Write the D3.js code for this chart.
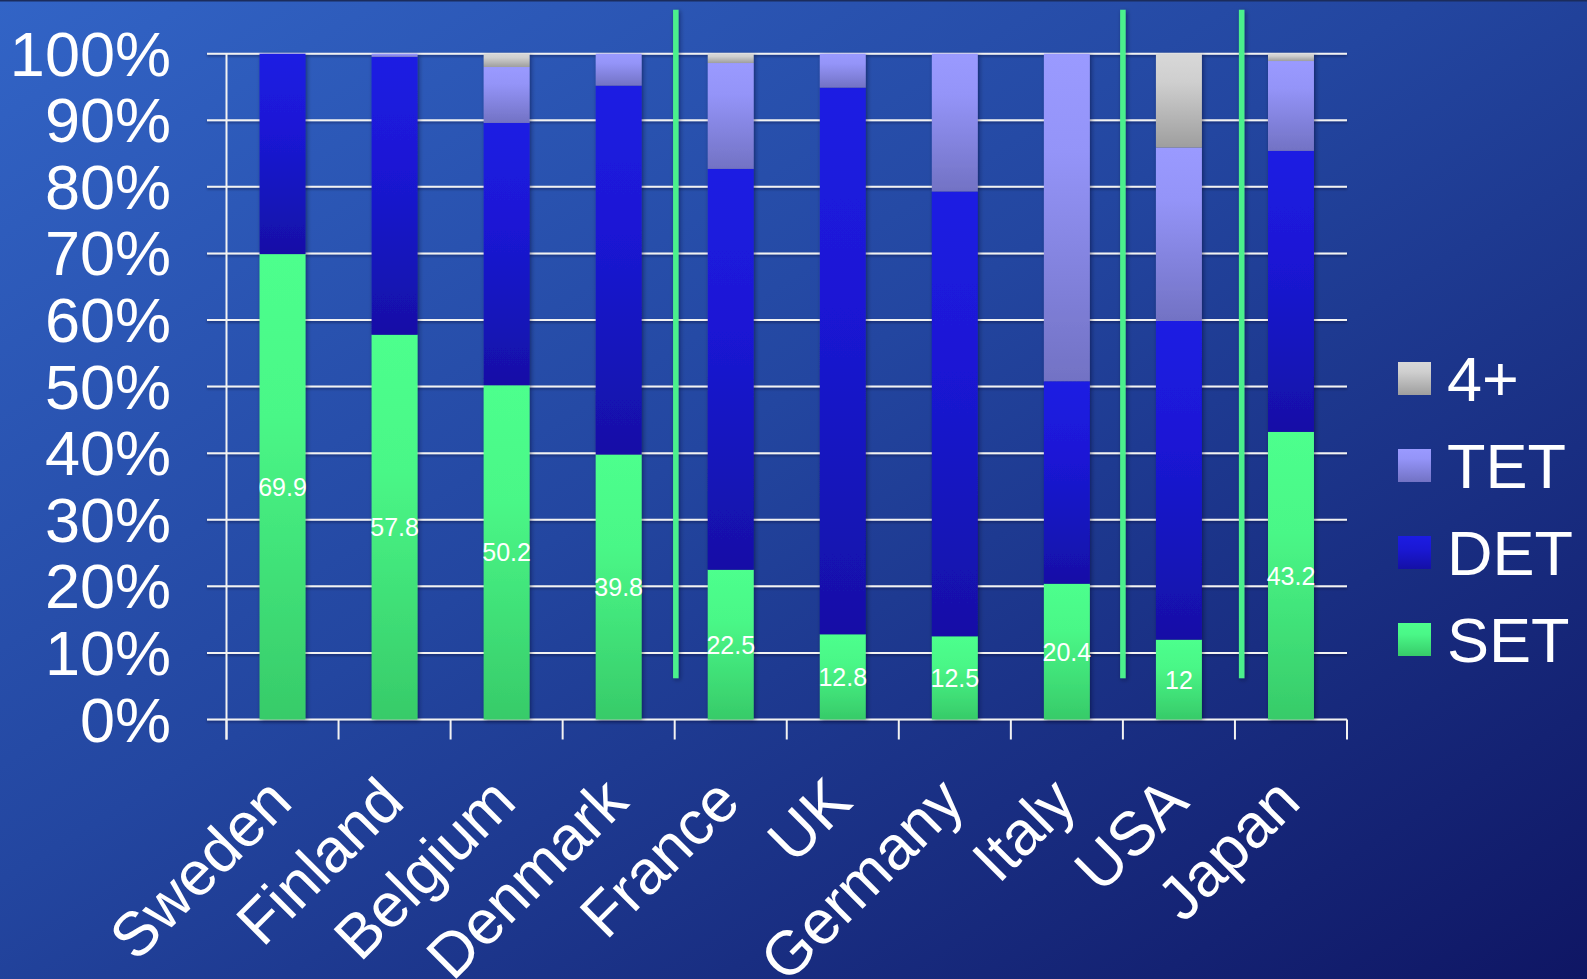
<!DOCTYPE html>
<html>
<head>
<meta charset="utf-8">
<script src="https://cdn.jsdelivr.net/npm/d3@7"></script>
<style>
  html, body { margin: 0; padding: 0; background: #1a3a94; }
  svg { display: block; }
  text { font-family: "Liberation Sans", Arial, sans-serif; fill: #ffffff; }
</style>
</head>
<body>
<svg id="chart" width="1587" height="979"></svg>
<script>
// Share of transplant types by country (%), stacked to 100
const countries = ["Sweden", "Finland", "Belgium", "Denmark", "France", "UK", "Germany", "Italy", "USA", "Japan"];
const setValues  = [69.9, 57.8, 50.2, 39.8, 22.5, 12.8, 12.5, 20.4, 12.0, 43.2];
const detValues  = [30.1, 41.7, 39.4, 55.4, 60.2, 82.1, 66.8, 30.4, 47.9, 42.2];
const tetValues  = [0.0, 0.5, 8.4, 4.8, 15.9, 5.1, 20.7, 49.2, 26.0, 13.5];
const fourValues = [0.0, 0.0, 2.0, 0.0, 1.4, 0.0, 0.0, 0.0, 14.1, 1.1];
const seriesNames = ["SET", "DET", "TET", "4+"];
const yTicks = [0, 10, 20, 30, 40, 50, 60, 70, 80, 90, 100];
const yTickLabels = ["0%", "10%", "20%", "30%", "40%", "50%", "60%", "70%", "80%", "90%", "100%"];
// Group separators, in category-index units along the x axis
const separators = [4.01, 8.0, 9.06];

const svg = d3.select("#chart");
const W = 1587, H = 979;
const plot = { left: 226.5, right: 1347, top: 53.7, bottom: 719.5 };

const defs = svg.append("defs");

// Background: diagonal blue gradient
const bg = defs.append("linearGradient").attr("id", "bg")
  .attr("x1", 0).attr("y1", 0).attr("x2", 1).attr("y2", 1);
bg.append("stop").attr("offset", 0).attr("stop-color", "#3264c6");
bg.append("stop").attr("offset", 0.45).attr("stop-color", "#2346a0");
bg.append("stop").attr("offset", 1).attr("stop-color", "#0f1664");

// Segment fills: vertical gradients, light at top
const fills = {
  "SET": [["0", "#4dff8d"], ["0.35", "#4af787"], ["1", "#37cb69"]],
  "DET": [["0", "#1c1ce3"], ["0.4", "#1a18d4"], ["1", "#1410a6"]],
  "TET": [["0", "#9a9aff"], ["0.3", "#9494f8"], ["1", "#7272c4"]],
  "4+":  [["0", "#d8d8d8"], ["0.3", "#cfcfcf"], ["1", "#9e9e9e"]]
};
const gradId = name => "g-" + name.replace("+", "p");
Object.entries(fills).forEach(([name, stops]) => {
  const g = defs.append("linearGradient").attr("id", gradId(name))
    .attr("x1", 0).attr("y1", 0).attr("x2", 0).attr("y2", 1);
  stops.forEach(([o, c]) => g.append("stop").attr("offset", o).attr("stop-color", c));
});

const shadow = defs.append("filter").attr("id", "shadow")
  .attr("x", "-30%").attr("y", "-5%").attr("width", "160%").attr("height", "110%");
shadow.append("feDropShadow").attr("dx", 1.5).attr("dy", 1.5)
  .attr("stdDeviation", 2).attr("flood-color", "#000820").attr("flood-opacity", 0.45);

const lineShadow = defs.append("filter").attr("id", "lineShadow")
  .attr("x", "-5%").attr("y", "-200%").attr("width", "110%").attr("height", "500%");
lineShadow.append("feDropShadow").attr("dx", 0).attr("dy", 1.5)
  .attr("stdDeviation", 1).attr("flood-color", "#000820").attr("flood-opacity", 0.45);

svg.append("rect").attr("width", W).attr("height", H).attr("fill", "url(#bg)");
svg.append("rect").attr("width", W).attr("height", 1.5).attr("fill", "#1b2c5c");

// Scales
const x = d3.scaleBand().domain(countries).range([plot.left, plot.right]).padding(0);
const xIdx = d3.scaleLinear().domain([0, countries.length]).range([plot.left, plot.right]);
const y = d3.scaleLinear().domain([0, 100]).range([plot.bottom, plot.top]);
const barW = x.bandwidth() * 0.41;

// Horizontal gridlines
svg.append("g").attr("filter", "url(#lineShadow)")
  .selectAll("line").data(yTicks).join("line")
  .attr("x1", plot.left - 19.5).attr("x2", plot.right)
  .attr("y1", d => y(d)).attr("y2", d => y(d))
  .attr("stroke", "#f2f2f2").attr("stroke-width", 2);

// Vertical axis line
svg.append("line")
  .attr("x1", plot.left).attr("x2", plot.left)
  .attr("y1", y(100)).attr("y2", plot.bottom + 20)
  .attr("stroke", "#f2f2f2").attr("stroke-width", 2);

// Category tick marks below the axis
svg.append("g").selectAll("line").data(d3.range(countries.length + 1)).join("line")
  .attr("x1", d => xIdx(d)).attr("x2", d => xIdx(d))
  .attr("y1", plot.bottom).attr("y2", plot.bottom + 20)
  .attr("stroke", "#f2f2f2").attr("stroke-width", 2);

// Y tick labels
svg.append("g").selectAll("text").data(yTicks).join("text")
  .attr("x", 171).attr("y", d => y(d) + 22)
  .attr("text-anchor", "end").attr("font-size", 63)
  .text((d, i) => yTickLabels[i]);

// Stacked bars
const rows = countries.map((c, i) => ({
  country: c, "SET": setValues[i], "DET": detValues[i], "TET": tetValues[i], "4+": fourValues[i]
}));
const stacked = d3.stack().keys(seriesNames)(rows);

const barsG = svg.append("g").attr("filter", "url(#shadow)");
stacked.forEach(layer => {
  barsG.append("g").selectAll("rect").data(layer.filter(d => d[1] - d[0] > 0)).join("rect")
    .attr("x", d => x(d.data.country) + x.bandwidth() / 2 - barW / 2)
    .attr("width", barW)
    .attr("y", d => y(d[1]))
    .attr("height", d => y(d[0]) - y(d[1]))
    .attr("fill", "url(#" + gradId(layer.key) + ")");
});

// SET value labels, centred in the SET segment
svg.append("g").selectAll("text").data(countries).join("text")
  .attr("x", d => x(d) + x.bandwidth() / 2)
  .attr("y", (d, i) => y(setValues[i] / 2) + 9)
  .attr("text-anchor", "middle").attr("font-size", 25)
  .text((d, i) => String(setValues[i]));

// Green group separators
svg.append("g").attr("filter", "url(#shadow)")
  .selectAll("rect").data(separators).join("rect")
  .attr("x", d => xIdx(d) - 2.75).attr("width", 5.5)
  .attr("y", y(106.6)).attr("height", y(6.2) - y(106.6))
  .attr("fill", "#4cf08c");

// Rotated category labels
svg.append("g").selectAll("text").data(countries).join("text")
  .attr("transform", d => `translate(${x(d) + x.bandwidth() / 2 + 12},${plot.bottom + 85}) rotate(-45)`)
  .attr("text-anchor", "end").attr("font-size", 62)
  .text(d => d);

// Legend, top entry is the last stacked series
const legendKeys = seriesNames.slice().reverse();
const lg = svg.append("g").selectAll("g").data(legendKeys).join("g")
  .attr("transform", (d, i) => `translate(1398,${362 + i * 87})`);
lg.append("rect").attr("width", 33).attr("height", 33)
  .attr("fill", d => "url(#" + gradId(d) + ")");
lg.append("text").attr("x", 49).attr("y", 16.5 + 22.5)
  .attr("font-size", 63).text(d => d);
</script>
</body>
</html>
